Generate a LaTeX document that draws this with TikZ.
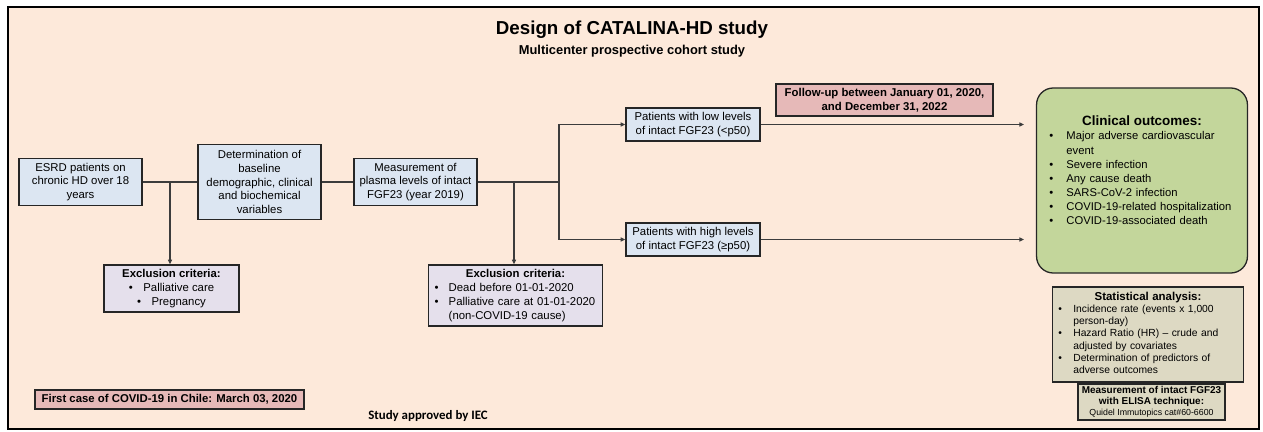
\documentclass[tikz,border=0pt]{standalone}
\usepackage{fontspec}
\setmainfont{Liberation Sans}
\newfontfamily\calfont{Carlito}
\usetikzlibrary{arrows.meta}

\definecolor{framefill}{HTML}{FDE9DA}
\definecolor{bluefill}{HTML}{DCE6F2}
\definecolor{exclfill}{HTML}{E5E0EC}
\definecolor{datefill}{HTML}{E6B9B8}
\definecolor{outfill}{HTML}{C3D69B}
\definecolor{statfill}{HTML}{DDD9C3}
\definecolor{boxline}{HTML}{262626}
\definecolor{linegray}{HTML}{3C3C3C}

\begin{document}
\begin{tikzpicture}[x=0.03cm, y=-0.03cm,
        stepnode/.style={rectangle, draw=boxline, line width=1.1pt, fill=bluefill, align=center, inner sep=1pt, font=\fontsize{9.7}{11.8}\selectfont},
        exclnode/.style={stepnode, fill=exclfill},
        datenode/.style={stepnode, fill=datefill, font=\fontsize{9.7}{11.8}\selectfont\bfseries},
        statnode/.style={stepnode, fill=statfill},
        link/.style={draw=linegray, line width=0.9pt},
        flow/.style={link, -{Triangle[length=4pt, width=3.5pt]}}]

        \useasboundingbox (0, 0) rectangle (1263, 432);
        \draw[line width=1.6pt, fill=framefill] (8, 7) rectangle (1259, 429);

        \node[font=\fontsize{16}{19}\selectfont\bfseries] at (632, 30) (title){Design of CATALINA-HD study};
        \node[font=\fontsize{11}{13}\selectfont\bfseries] at (632, 51) (subtitle){Multicenter prospective cohort study};

        \node[stepnode, minimum width=3.69cm, minimum height=1.41cm] at (80.5, 182) (esrd){ESRD patients on\\chronic HD over 18\\years};
        \node[stepnode, minimum width=3.69cm, minimum height=2.25cm] at (259.5, 182) (baseline){Determination of\\baseline\\demographic, clinical\\and biochemical\\variables};
        \node[stepnode, minimum width=3.69cm, minimum height=1.41cm] at (415.5, 182) (plasma){Measurement of\\plasma levels of intact\\FGF23 (year 2019)};

        \node[exclnode, minimum width=4.05cm, minimum height=1.41cm] at (171.5, 288.5) (excl1){\textbf{Exclusion criteria:}\\\textbullet\hspace{9pt}Palliative care\\\textbullet\hspace{9pt}Pregnancy};
        \node[exclnode, text width=138pt, inner xsep=5.5pt, minimum height=1.83cm] at (515.5, 295.5) (excl2){\begin{tabular}{@{}p{12pt}@{}p{126pt}@{}}
                \multicolumn{2}{c}{\bfseries Exclusion criteria:}\\
                \textbullet & \mbox{Dead before 01-01-2020}\\
                \textbullet & \mbox{Palliative care at 01-01-2020}\\
                & \mbox{(non-COVID-19 cause)}
            \end{tabular}};

        \node[stepnode, minimum width=4.02cm, minimum height=0.99cm] at (693, 124.5) (low){Patients with low levels\\of intact FGF23 (<p50)};
        \node[stepnode, minimum width=4.02cm, minimum height=0.99cm] at (693, 239.5) (high){Patients with high levels\\of intact FGF23 (≥p50)};
        \node[datenode, minimum width=6.51cm, minimum height=0.96cm] at (884.5, 100) (followup){Follow-up between January 01, 2020,\\and December 31, 2022};

        \node[rectangle, rounded corners=0.5cm, draw=boxline, line width=1.1pt, fill=outfill, text width=158pt, inner xsep=11pt, minimum height=5.55cm, font=\fontsize{9.6}{12}\selectfont] at (1142, 180.5) (outcomes){\begin{tabular}{@{}p{14.5pt}@{}p{143.5pt}@{}}
                \multicolumn{2}{c}{\fontsize{11.5}{14}\selectfont\bfseries Clinical outcomes:}\\
                \textbullet & Major adverse cardiovascular\\
                & event\\
                \textbullet & Severe infection\\
                \textbullet & Any cause death\\
                \textbullet & SARS-CoV-2 infection\\
                \textbullet & \mbox{COVID-19-related hospitalization}\\
                \textbullet & COVID-19-associated death\\[14pt]
            \end{tabular}};

        \node[statnode, text width=153pt, inner xsep=5pt, minimum height=2.85cm, font=\fontsize{8.8}{10.5}\selectfont] at (1148, 334.5) (stats){\begin{tabular}{@{}p{12.75pt}@{}p{140.25pt}@{}}
                \multicolumn{2}{c}{\fontsize{9.8}{12}\selectfont\bfseries Statistical analysis:}\\
                \textbullet & Incidence rate (events x 1,000\\
                & person-day)\\
                \textbullet & Hazard Ratio (HR) – crude and\\
                & adjusted by covariates\\
                \textbullet & Determination of predictors of\\
                & adverse outcomes
            \end{tabular}};
        \node[statnode, minimum width=4.41cm, minimum height=1.08cm, font=\fontsize{8.5}{9.3}\selectfont\bfseries] at (1151.5, 402) (elisa){Measurement of intact FGF23\\with ELISA technique:\\{\mdseries\fontsize{7.5}{9.3}\selectfont Quidel Immutopics cat\#60-6600}};

        \node[datenode, minimum width=8.07cm, minimum height=0.57cm] at (169.5, 399.5) (firstcase){First case of COVID-19 in Chile: March 03, 2020};
        \node[font=\calfont\fontsize{11}{13}\selectfont\bfseries] at (428, 416) (iec){Study approved by IEC};

        \coordinate (split1) at (170, 182);
        \coordinate (split2) at (514, 182);
        \coordinate (fork) at (559, 182);
        \coordinate (lowend) at (1024, 124.5);
        \coordinate (highend) at (1024, 239.5);

        \draw[link] (esrd) -- (baseline);
        \draw[link] (baseline) -- (plasma);
        \draw[link] (plasma) -- (fork);

        \draw[flow] (split1) -- (split1 |- excl1.north);
        \draw[flow] (split2) -- (split2 |- excl2.north);

        \draw[flow] (fork) |- (low);
        \draw[flow] (fork) |- (high);
        \draw[flow] (low) -- (lowend);
        \draw[flow] (high) -- (highend);
\end{tikzpicture}
\end{document}
